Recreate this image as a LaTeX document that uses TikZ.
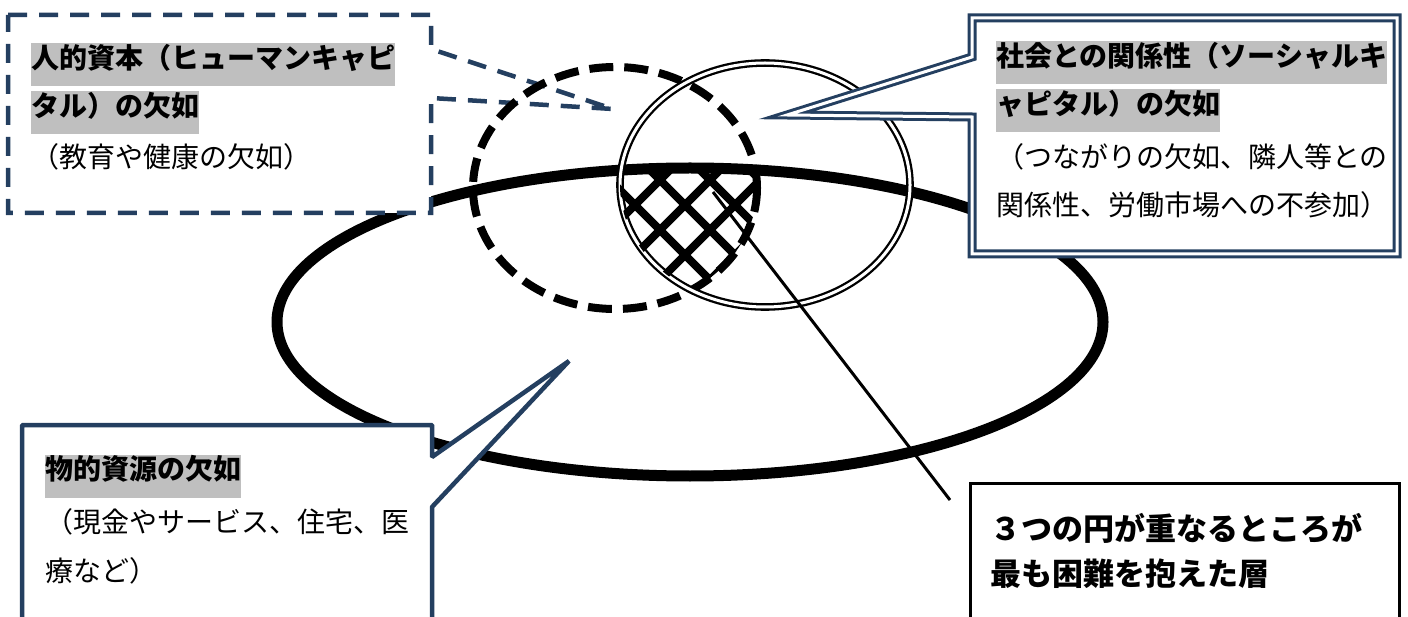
\documentclass[tikz,border=0pt]{standalone}
\usepackage{fontspec}
\newfontfamily\jp{Noto Sans CJK JP}

\definecolor{azul}{HTML}{243F60}
\definecolor{grisfondo}{HTML}{BFBFBF}

\tikzset{
	anillo/.style={line width=11pt},
	circpunteado/.style={line width=8pt, dash pattern=on 24pt off 11pt},
	circdoble/.style={line width=2.3pt, double=white, double distance=3pt},
	globo/.style={draw=azul, fill=white, line width=4.5pt},
	trama/.style={line width=8pt},
	resaltado/.style={anchor=west, fill=grisfondo, inner xsep=0pt, inner ysep=0pt,
		minimum height=43pt, text height=0.88em, text depth=0.12em,
		font=\jp\bfseries\fontsize{28}{28}\selectfont},
	cuerpo/.style={anchor=west, inner sep=0pt, text height=0.88em, text depth=0.12em,
		font=\jp\fontsize{28}{28}\selectfont},
	conclusion/.style={anchor=west, inner sep=0pt, text height=0.88em, text depth=0.12em,
		font=\jp\bfseries\fontsize{31}{31}\selectfont}
}

\begin{document}
\begin{tikzpicture}[x=1pt, y=-1pt]

	% 1. Marco (coordenadas en pixeles, y hacia abajo)
	\useasboundingbox (0,0) rectangle (1408,617);
	\clip (0,0) rectangle (1408,617);

	% 2. Elipse grande
	\draw[anillo] (690,322) ellipse [x radius=413, y radius=154];

	% 3. Globo superior izquierdo (punteado)
	\draw[globo, dash pattern=on 19pt off 12pt] (8,15) -- (431,15) -- (431,49) -- (613,109)
		-- (431,98) -- (431,213) -- (8,213) -- cycle;
	\node[resaltado] (HA1) at (31,65) {人的資本（ヒューマンキャピ};
	\node[resaltado] (HA2) at (31,113) {タル）の欠如};
	\node[cuerpo] (HA3) at (31,164) {（教育や健康の欠如）};

	% 4. Circulos
	\draw[circpunteado] (615,188) ellipse [x radius=142, y radius=121];
	\draw[circdoble] (765,185) ellipse [x radius=145, y radius=122];

	% 5. Globo superior derecho (doble linea)
	\draw[globo, line width=3pt, double=white, double distance=3pt] (972,18) -- (1397,18)
		-- (1397,254) -- (972,254) -- (972,117) -- (787,115) -- (972,57) -- cycle;
	\node[resaltado] (SC1) at (996,63) {社会との関係性（ソーシャルキ};
	\node[resaltado] (SC2) at (996,111) {ャピタル）の欠如};
	\node[cuerpo] (SC3) at (996,164) {（つながりの欠如、隣人等との};
	\node[cuerpo] (SC4) at (996,212) {関係性、労働市場への不参加）};

	% 6. Zona comun rayada
	\begin{scope}
		\clip (690,322) ellipse [x radius=413, y radius=154];
		\clip (615,188) ellipse [x radius=142, y radius=121];
		\clip (765,185) ellipse [x radius=145, y radius=122];
		\foreach \k in {380,430,480,530,580}
			\draw[trama] (\k+100,100) -- (\k+350,350);
		\foreach \m in {840,890,940,990,1040}
			\draw[trama] (\m-100,100) -- (\m-350,350);
	\end{scope}

	% 7. Linea hacia el recuadro
	\coordinate (nucleo) at (713,192);
	\coordinate (punta) at (950,500);
	\draw[line width=3pt] (nucleo) -- (punta);

	% 8. Globo inferior izquierdo
	\draw[globo, line join=bevel] (22,425) -- (432,425) -- (432,457) -- (569,361)
		-- (432,507) -- (432,660) -- (22,660) -- cycle;
	\node[resaltado] (MA1) at (45,476) {物的資源の欠如};
	\node[cuerpo] (MA2) at (45,529) {（現金やサービス、住宅、医};
	\node[cuerpo] (MA3) at (45,578) {療など）};

	% 9. Recuadro inferior derecho
	\draw[line width=3pt, fill=white] (970,483) rectangle (1399,660);
	\node[conclusion] (CO1) at (990,537) {３つの円が重なるところが};
	\node[conclusion] (CO2) at (990,582) {最も困難を抱えた層};

\end{tikzpicture}
\end{document}
